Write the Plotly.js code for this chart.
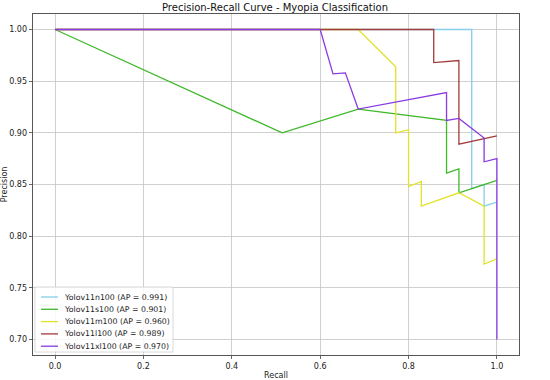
<!DOCTYPE html>
<html>
<head>
<meta charset="utf-8">
<script src="https://cdn.plot.ly/plotly-3.0.1.min.js"></script>
<style>html,body{margin:0;padding:0;background:#fff;}#chart{width:550px;height:380px;}</style>
</head>
<body>
<div id="chart"></div>
<script>
// Series names
const seriesNames = ["Yolov11n100", "Yolov11s100", "Yolov11m100", "Yolov11l100", "Yolov11xl100"];
const apValues = ["0.991", "0.901", "0.960", "0.989", "0.970"];
const seriesColors = ["#87ceeb", "#3fb82a", "#e2e22a", "#a33b3b", "#8a3be2"];

// Recall / precision points
const recallN = [0.0, 0.943, 0.943, 0.971, 0.971, 1.0];
const precisionN = [1.0, 1.0, 0.846, 0.850, 0.829, 0.833];

const recallS = [0.0, 0.514, 0.686, 0.886, 0.886, 0.914, 0.914, 1.0];
const precisionS = [1.0, 0.900, 0.923, 0.912, 0.861, 0.865, 0.842, 0.854];

const recallM = [0.0, 0.686, 0.771, 0.771, 0.800, 0.800, 0.829, 0.829, 0.914, 0.971, 0.971, 1.0];
const precisionM = [1.0, 1.0, 0.964, 0.900, 0.903, 0.848, 0.853, 0.829, 0.842, 0.829, 0.773, 0.778];

const recallL = [0.0, 0.857, 0.857, 0.914, 0.914, 1.0];
const precisionL = [1.0, 1.0, 0.968, 0.970, 0.889, 0.897];

const recallXL = [0.0, 0.600, 0.629, 0.657, 0.686, 0.886, 0.886, 0.914, 0.971, 0.971, 1.0, 1.0];
const precisionXL = [1.0, 1.0, 0.957, 0.958, 0.923, 0.939, 0.912, 0.914, 0.895, 0.872, 0.875, 0.700];

const xTicks = [0.0, 0.2, 0.4, 0.6, 0.8, 1.0];
const xTickLabels = ["0.0", "0.2", "0.4", "0.6", "0.8", "1.0"];
const yTicks = [0.70, 0.75, 0.80, 0.85, 0.90, 0.95, 1.00];
const yTickLabels = ["0.70", "0.75", "0.80", "0.85", "0.90", "0.95", "1.00"];

const recalls = [recallN, recallS, recallM, recallL, recallXL];
const precisions = [precisionN, precisionS, precisionM, precisionL, precisionXL];

const labels = seriesNames.map((n, i) => n + " (AP = " + apValues[i] + ")");

const traces = seriesNames.map((n, i) => ({
  type: "scatter",
  mode: "lines",
  x: recalls[i],
  y: precisions[i],
  name: labels[i],
  line: {color: seriesColors[i], width: 1.3}
}));

// Compact legend (matplotlib-like) drawn with layout shapes/annotations
const W = 550, H = 380, ML = 33, MR = 31, MT = 14, MB = 25;
const PW = W - ML - MR, PH = H - MT - MB;
const dx = px => (px - ML) / PW;
const dy = py => (H - MB - py) / PH;
const legTop = 287, legBottom = 352, legLeft = 35, legRight = 173;
const rowStart = 297, rowStep = 12.3;

const shapes = [{
  type: "rect", xref: "x domain", yref: "y domain",
  x0: dx(legLeft), x1: dx(legRight), y0: dy(legBottom), y1: dy(legTop),
  fillcolor: "rgba(255,255,255,0.85)", line: {color: "#d0d0d0", width: 0.8}, layer: "above"
}];
const annotations = [];
labels.forEach((lab, i) => {
  const yy = rowStart + i * rowStep;
  shapes.push({
    type: "line", xref: "x domain", yref: "y domain",
    x0: dx(41), x1: dx(58), y0: dy(yy), y1: dy(yy),
    line: {color: seriesColors[i], width: 1.3}, layer: "above"
  });
  annotations.push({
    xref: "x domain", yref: "y domain", x: dx(62), y: dy(yy),
    xanchor: "left", yanchor: "middle", showarrow: false, text: lab,
    font: {family: "DejaVu Sans, sans-serif", size: 7.8, color: "#222"}
  });
});

const font = "DejaVu Sans, sans-serif";
const layout = {
  width: W, height: H,
  margin: {l: ML, r: MR, t: MT, b: MB},
  paper_bgcolor: "#fff", plot_bgcolor: "#fff",
  font: {family: font, size: 8, color: "#222"},
  title: {text: "Precision-Recall Curve - Myopia Classification", font: {family: font, size: 10, color: "#111"}, x: 0.5, xanchor: "center", y: 0.979, yanchor: "middle"},
  xaxis: {
    range: [-0.05, 1.05], tickvals: xTicks, ticktext: xTickLabels,
    showgrid: true, gridcolor: "#c4c4c4", gridwidth: 0.8, zeroline: false,
    showline: true, linecolor: "#444", linewidth: 0.9, mirror: true,
    ticks: "outside", ticklen: 3.5, tickcolor: "#444", tickwidth: 0.8,
    tickfont: {family: font, size: 8, color: "#222"},
    title: {text: "Recall", font: {family: font, size: 8, color: "#222"}, standoff: 4}
  },
  yaxis: {
    range: [0.685, 1.015], tickvals: yTicks, ticktext: yTickLabels,
    showgrid: true, gridcolor: "#c4c4c4", gridwidth: 0.8, zeroline: false,
    showline: true, linecolor: "#444", linewidth: 0.9, mirror: true,
    ticks: "outside", ticklen: 3.5, tickcolor: "#444", tickwidth: 0.8,
    tickfont: {family: font, size: 8, color: "#222"},
    title: {text: "Precision", font: {family: font, size: 8, color: "#222"}, standoff: 4}
  },
  shapes: shapes,
  annotations: annotations,
  showlegend: false
};

Plotly.newPlot("chart", traces, layout, {displayModeBar: false, staticPlot: true});
</script>
</body>
</html>
